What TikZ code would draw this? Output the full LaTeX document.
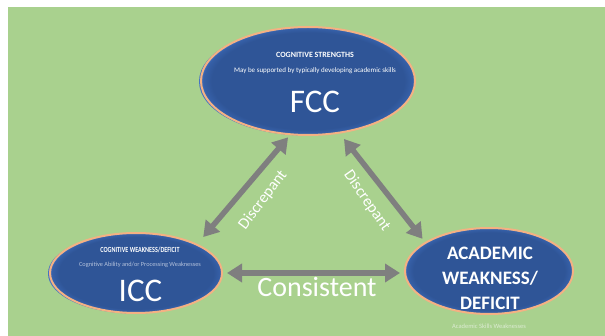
\documentclass[tikz,border=0pt]{standalone}
\usepackage{fontspec}
\setmainfont{Carlito}
\usetikzlibrary{shapes.geometric,arrows.meta}

\definecolor{bggreen}{HTML}{A9D18E}
\definecolor{ovalblue}{HTML}{2F5597}
\definecolor{rimmid}{HTML}{3660A8}
\definecolor{rimblue}{HTML}{4472C4}
\definecolor{rimorange}{HTML}{F4B183}
\definecolor{arrowgray}{HTML}{7F7F7F}
\definecolor{softtext}{HTML}{B4C2DC}
\definecolor{paletext}{HTML}{DCEBD2}

% dark oval with a thin lighter blue glow at its rim
\pgfdeclareradialshading{ovalglow}{\pgfpoint{0bp}{0bp}}{%
  color(0bp)=(ovalblue); color(22.5bp)=(ovalblue); color(24.5bp)=(rimmid);
  color(25bp)=(rimblue); color(50bp)=(rimblue)}

\tikzset{
  oval/.style={ellipse, draw=rimorange, line width=2pt, shade, shading=ovalglow,
    inner sep=0pt, outer sep=0pt},
  ovalback/.style={ellipse, fill=rimblue, inner sep=0pt, outer sep=0pt},
  link/.style={draw=arrowgray, line width=5.5pt,
    {Triangle[width=18pt,length=15pt]}-{Triangle[width=18pt,length=15pt]}},
  wt/.style={text=white, inner sep=0pt},
}

\begin{document}
\begin{tikzpicture}[x=1pt,y=-1pt]
  \useasboundingbox (0,0) rectangle (605,336);
  \fill[white] (0,0) rectangle (605,336);
  \fill[bggreen] (8,7) rectangle (605,336);

  % FCC oval
  \node[ovalback, minimum width=214pt, minimum height=108pt] (fccback) at (306,81.5) {};
  \node[oval, minimum width=214pt, minimum height=108pt] (fcc) at (308,81) {};
  \node[wt, anchor=base, font=\bfseries\fontsize{8}{8}\selectfont] (fcchead) at (315,58)
    {COGNITIVE STRENGTHS};
  \node[wt, anchor=base, font=\fontsize{7}{7}\selectfont] (fccnote) at (315,73)
    {May be supported by typically developing academic skills};
  \node[wt, anchor=base, font=\fontsize{33}{33}\selectfont] (fcctag) at (315,113) {FCC};

  % ICC oval
  \node[ovalback, minimum width=172pt, minimum height=80pt] (iccback) at (134,273.5) {};
  \node[oval, minimum width=172pt, minimum height=80pt] (icc) at (136,273) {};
  \node[wt, anchor=base] (icchead) at (140,253)
    {\scalebox{0.78}[1]{\bfseries\fontsize{7.8}{8}\selectfont COGNITIVE WEAKNESS/DEFICIT}};
  \node[text=softtext, inner sep=0pt, anchor=base, font=\fontsize{6.3}{7}\selectfont] (iccnote)
    at (140,266.5) {Cognitive Ability and/or Processing Weaknesses};
  \node[wt, anchor=base, font=\fontsize{33}{33}\selectfont] (icctag) at (140.5,301.5) {ICC};

  % academic oval
  \node[oval, minimum width=168pt, minimum height=86pt] (acad) at (489,271) {};
  \node[wt, anchor=base, font=\bfseries\fontsize{19}{19}\selectfont] (acadl1) at (490,260) {ACADEMIC};
  \node[wt, anchor=base, font=\bfseries\fontsize{19}{19}\selectfont] (acadl2) at (490,284.8) {WEAKNESS/};
  \node[wt, anchor=base, font=\bfseries\fontsize{19}{19}\selectfont] (acadl3) at (490,309.4) {DEFICIT};
  \node[text=paletext, inner sep=0pt, font=\fontsize{6.5}{7}\selectfont] (acadnote)
    at (489,326) {Academic Skills Weaknesses};

  % connectors
  \draw[link, shorten <=10pt, shorten >=4pt] (icc.25) -- (fcc.252);
  \draw[link, shorten <=8pt, shorten >=5pt] (fcc.301) -- (acad.156);
  \draw[link, shorten <=5pt, shorten >=5pt] (icc.east) -- (icc.east -| acad.west);

  % connector labels
  \node[wt, rotate=53, font=\fontsize{16}{16}\selectfont] (lblleft) at (263,200) {Discrepant};
  \node[wt, rotate=-55, font=\fontsize{16}{16}\selectfont] (lblright) at (367,201) {Discrepant};
  \node[wt, font=\fontsize{28}{28}\selectfont] (lblmid) at (317,287) {Consistent};
\end{tikzpicture}
\end{document}
